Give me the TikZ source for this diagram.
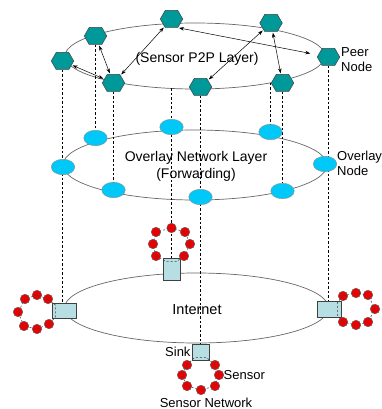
\documentclass[tikz,border=0pt]{standalone}
\usepackage{fontspec}
\setmainfont{Liberation Sans}
\usetikzlibrary{shapes.symbols,shapes.geometric,arrows.meta,calc,backgrounds}
\definecolor{hexc}{HTML}{009999}
\definecolor{ovalc}{HTML}{00C8F8}
\definecolor{sinkc}{HTML}{B7DEE3}
\definecolor{senc}{HTML}{EE0000}
\begin{document}
\begin{tikzpicture}[x=1pt,y=-1pt,
  peer/.style={shape=signal, signal to=east and west, signal pointer angle=120,
    minimum width=22.5pt, minimum height=17pt, inner sep=0pt, fill=hexc, draw=black!75, line width=0.5pt},
  ovl/.style={ellipse, minimum width=23.5pt, minimum height=15.5pt, inner sep=0pt, fill=ovalc, draw=black!45, line width=0.4pt},
  sinkbox/.style={rectangle, inner sep=0pt, fill=sinkc, draw=black!75, line width=0.6pt},
  sensor/.style={circle, minimum size=9.5pt, inner sep=0pt, fill=senc, draw=black!65, line width=0.45pt},
  layerline/.style={draw=black!60, line width=0.7pt},
  vdash/.style={draw=black, line width=0.6pt, dash pattern=on 2.5pt off 2pt},
  ring/.style={draw=black!75, line width=0.5pt, dash pattern=on 2pt off 2pt},
  biarrow/.style={{Stealth[length=5pt,width=3.5pt]}-{Stealth[length=5pt,width=3.5pt]}, draw=black, line width=0.5pt, shorten <=1pt, shorten >=1pt},
  mainlabel/.style={font=\fontsize{14}{17}\selectfont, inner sep=0pt},
  sidelabel/.style={font=\fontsize{13}{14.5}\selectfont, inner sep=0pt}]
\useasboundingbox (0,0) rectangle (382,409);

% P2P layer nodes
\node[peer] (hT) at (171.5,19) {};
\node[peer] (hTR) at (271,23) {};
\node[peer] (hUL) at (95.5,36) {};
\node[peer] (hL) at (62.5,61) {};
\node[peer] (hPN) at (328.5,57) {};
\node[peer] (hBL) at (113.5,83) {};
\node[peer] (hBM) at (200.5,87) {};
\node[peer] (hBR) at (282.5,83) {};

% overlay nodes
\node[ovl] (oUL) at (95.5,138) {};
\node[ovl] (oT) at (171.5,127) {};
\node[ovl] (oUR) at (270.5,132) {};
\node[ovl] (oL) at (63,167) {};
\node[ovl] (oR) at (325,164) {};
\node[ovl] (oBL) at (113.5,190) {};
\node[ovl] (oBM) at (200.5,197) {};
\node[ovl] (oBR) at (282.5,191) {};

% sinks
\node[sinkbox, minimum width=17pt, minimum height=22pt] (sT) at (171.5,269) {};
\node[sinkbox, minimum width=24pt, minimum height=15pt] (sL) at (64,311) {};
\node[sinkbox, minimum width=24pt, minimum height=16pt] (sR) at (329,309) {};
\node[sinkbox, minimum width=17pt, minimum height=16pt] (sB) at (200.5,352) {};

% sensors
\foreach \n/\p in {t1/{156,256},t2/{153,244},t3/{156,232},t4/{171.5,228},t5/{185,232},t6/{190,244},t7/{184,256},
  l1/{48,299},l2/{37,295},l3/{25,299},l4/{18,312},l5/{24,326},l6/{37,329},l7/{49,324},
  r1/{343,296},r2/{356,293},r3/{368,295},r4/{375,309},r5/{368,322},r6/{356,325},r7/{343,322},
  b1/{187,365},b2/{182,375},b3/{187,386},b4/{201,390},b5/{215,386},b6/{219,375},b7/{215,365}}
  \node[sensor] (\n) at (\p) {};

% free ends of dashed lines on the top ellipse
\coordinate (c1) at (171.5,88.5);
\coordinate (c2) at (270.5,83);

\begin{scope}[on background layer]
  \draw[layerline] (195,56) ellipse [x radius=130pt, y radius=33pt];
  \draw[layerline] (195,165) ellipse [x radius=132pt, y radius=35pt];
  \draw[layerline] (196.5,308) ellipse [x radius=132pt, y radius=35pt];
  \draw[vdash] (hL.south) -- (hL.south |- sL.north);
  \draw[vdash] (hUL.south) -- (oUL.north);
  \draw[vdash] (hBL.south) -- (oBL.north);
  \draw[vdash] (c1) -- (oT.north);
  \draw[vdash] (oT.south) -- (sT.north);
  \draw[vdash] (hBM.south) -- (sB.north);
  \draw[vdash] (c2) -- (oUR.north);
  \draw[vdash] (hBR.south) -- (oBR.north);
  \draw[vdash] (hPN.south) -- (hPN.south |- sR.north);
\end{scope}

% P2P links
\draw[biarrow] (hUL) -- (hBL);
\draw[biarrow] (hL) -- (hBL);
\draw[biarrow] (hT) -- (hBL);
\draw[biarrow, shorten >=8pt] (hT.south east) -- (hPN);
\draw[biarrow] (hTR) -- (hBM);
\draw[biarrow] (hTR) -- (hBR);

% sensor rings
\draw[ring] (t1.center) -- (t2.center) -- (t3.center) -- (t4.center) -- (t5.center) -- (t6.center) -- (t7.center);
\draw[ring] (t1.center) -- ([xshift=-5pt,yshift=-4pt]sT.north) -- ([xshift=5pt,yshift=-4pt]sT.north) -- (t7.center);
\draw[ring] (l1.center) -- (l2.center) -- (l3.center) -- (l4.center) -- (l5.center) -- (l6.center) -- (l7.center);
\draw[ring] (l1.center) -- ([xshift=4pt,yshift=-2pt]sL.north west) -- ([xshift=4pt,yshift=2pt]sL.south west) -- (l7.center);
\draw[ring] (r1.center) -- (r2.center) -- (r3.center) -- (r4.center) -- (r5.center) -- (r6.center) -- (r7.center);
\draw[ring] (r1.center) -- ([xshift=-4pt,yshift=-2pt]sR.north east) -- ([xshift=-4pt,yshift=2pt]sR.south east) -- (r7.center);
\draw[ring] (b1.center) -- (b2.center) -- (b3.center) -- (b4.center) -- (b5.center) -- (b6.center) -- (b7.center);
\draw[ring] (b1.center) -- ([xshift=3pt,yshift=3pt]sB.south west) -- ([xshift=-3pt,yshift=3pt]sB.south east) -- (b7.center);

% labels
\node[mainlabel] (tP2P) at (197,59) {(Sensor P2P Layer)};
\node[mainlabel, align=center] (tOv) at (196,166) {Overlay Network Layer\\(Forwarding)};
\node[sidelabel, align=left, anchor=west] (tPeer) at (341,59.5) {Peer\\Node};
\node[sidelabel, align=left, anchor=west] (tOvN) at (337,163.5) {Overlay\\Node};
\node[mainlabel, font=\fontsize{14.5}{17}\selectfont] (tInt) at (197,310) {Internet};
\node[sidelabel, anchor=east] (tSink) at ([xshift=-1pt]sB.west) {Sink};
\node[sidelabel, anchor=west] (tSen) at (223.5,375) {Sensor};
\node[sidelabel] (tSN) at (206,403) {Sensor Network};
\end{tikzpicture}
\end{document}
